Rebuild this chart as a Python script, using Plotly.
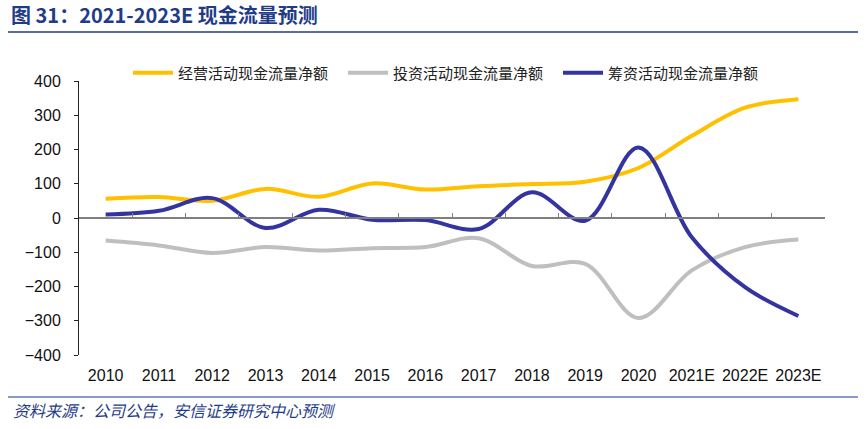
import plotly.graph_objects as go

years = ["2010", "2011", "2012", "2013", "2014", "2015", "2016", "2017",
         "2018", "2019", "2020", "2021E", "2022E", "2023E"]
operating = [56, 61, 50, 85, 62, 101, 83, 93, 99, 106, 146, 240, 322, 347]
investing = [-66, -80, -102, -85, -95, -88, -85, -59, -140, -134, -292, -153, -85, -63]
financing = [10, 21, 58, -29, 24, -5, -6, -32, 75, -8, 206, -56, -202, -286]

series_names = ["经营活动现金流量净额", "投资活动现金流量净额", "筹资活动现金流量净额"]
series_colors = ["#FFC000", "#BFBFBF", "#3434A0"]
y_ticks = [400, 300, 200, 100, 0, -100, -200, -300, -400]

W, H = 867, 429
L, R, T, B = 79, 42, 81, 74
plot_w = W - L - R
plot_h = H - T - B

def px_x(x):
    return (x - L) / plot_w

def px_y(y):
    return (H - B - y) / plot_h

fig = go.Figure()
for name, vals, col in zip(series_names, [operating, investing, financing], series_colors):
    fig.add_trace(go.Scatter(
        x=years, y=vals, name=name, mode="lines",
        line=dict(color=col, width=4, shape="spline", smoothing=1.0),
    ))
# helper trace to carry the zero-level axis with boundary ticks
fig.add_trace(go.Scatter(x=[], y=[], xaxis="x2", showlegend=False, hoverinfo="skip"))

axis_font = dict(family="Liberation Sans, Arial", size=16, color="#111111")

fig.update_layout(
    width=W, height=H,
    margin=dict(l=L, r=R, t=T, b=B),
    paper_bgcolor="white", plot_bgcolor="white",
    showlegend=True,
    title=dict(
        text="<b>图 31：2021-2023E 现金流量预测</b>",
        font=dict(family="Noto Sans CJK SC, Liberation Sans", size=20, color="#1F3C88"),
        xref="container", yref="container",
        x=11 / W, xanchor="left", y=1 - 16 / H, yanchor="middle",
    ),
    legend=dict(
        orientation="h", x=px_x(128), xanchor="left", y=px_y(73), yanchor="middle",
        font=dict(family="Noto Sans CJK SC", size=15, color="#222222"),
        itemwidth=40, entrywidth=160, entrywidthmode="pixels",
        bgcolor="rgba(0,0,0,0)", traceorder="normal",
    ),
    xaxis=dict(
        type="category", categoryarray=years, range=[-0.5, len(years) - 0.5],
        showline=False, ticks="", showgrid=False, zeroline=False,
        tickfont=axis_font, ticklabelstandoff=9,
    ),
    xaxis2=dict(
        type="linear", overlaying="x", anchor="free", position=0.5,
        range=[-0.5, len(years) - 0.5],
        tickvals=[i - 0.5 for i in range(len(years) + 1)],
        ticks="inside", ticklen=4, tickcolor="#7F7F7F", tickwidth=1,
        showline=True, linecolor="#7F7F7F", linewidth=1.5,
        showticklabels=False, showgrid=False, zeroline=False,
    ),
    yaxis=dict(
        range=[-400, 400], tickvals=y_ticks,
        showline=True, linecolor="#222222", linewidth=1,
        ticks="outside", ticklen=4, tickcolor="#222222",
        showgrid=False, zeroline=False,
        tickfont=axis_font, ticklabelstandoff=10,
    ),
    shapes=[
        dict(type="line", xref="paper", yref="paper",
             x0=px_x(8), x1=px_x(858), y0=px_y(32), y1=px_y(32),
             line=dict(color="#1F3C88", width=1.5)),
        dict(type="line", xref="paper", yref="paper",
             x0=px_x(8), x1=px_x(858), y0=px_y(397), y1=px_y(397),
             line=dict(color="#8A98CF", width=2)),
    ],
    annotations=[
        dict(text="资料来源：公司公告，安信证券研究中心预测", xref="paper", yref="paper",
             x=px_x(11), y=px_y(410), xanchor="left", yanchor="middle", showarrow=False,
             font=dict(family="Noto Sans CJK SC", size=16, color="#1F3C88", style="italic")),
    ],
)

fig.write_html("out.html")
